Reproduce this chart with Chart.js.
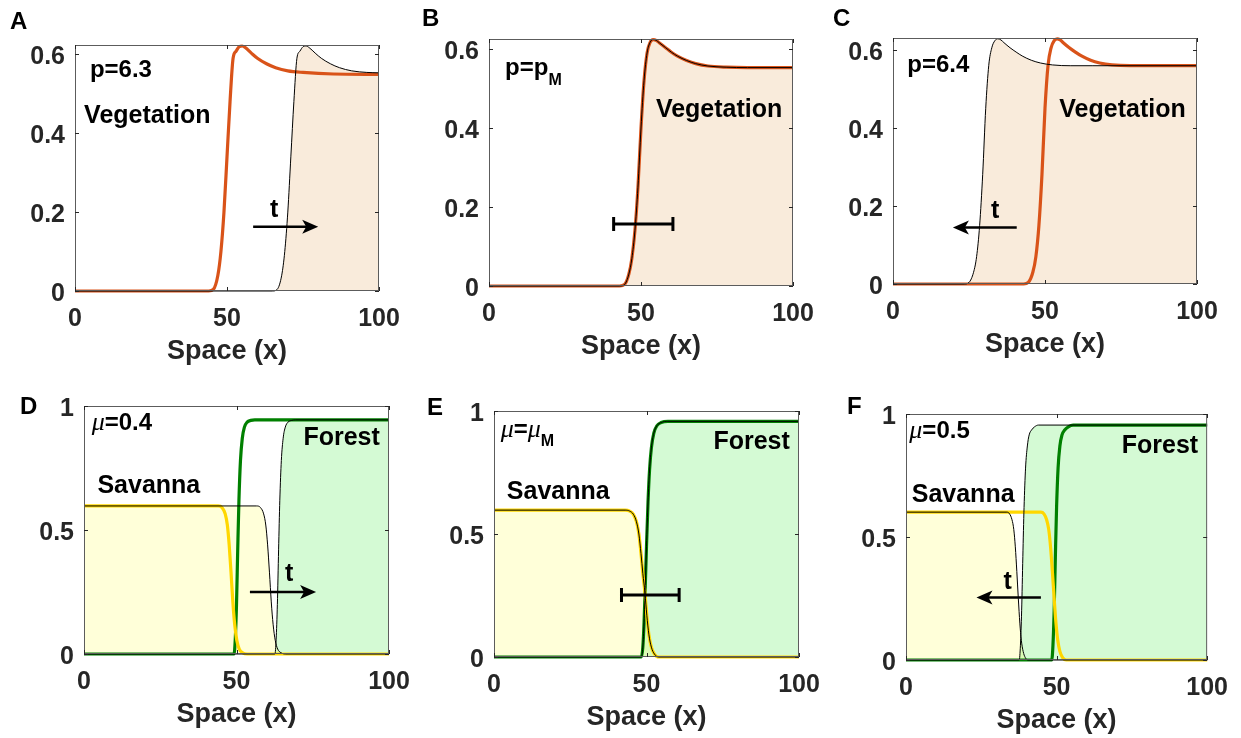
<!DOCTYPE html>
<html>
<head>
<meta charset="utf-8">
<title>Front propagation</title>
<script src="https://cdn.jsdelivr.net/npm/chart.js@4.4.1/dist/chart.umd.min.js"></script>
<style>
  html, body { margin: 0; padding: 0; background: #fff; overflow: hidden; }
  #wrap { position: relative; width: 1241px; height: 738px; }
  #wrap canvas { position: absolute; left: 0; top: 0; }
</style>
</head>
<body>
<div id="wrap">
  <canvas id="panelA" width="1241" height="738"></canvas>
  <canvas id="panelB" width="1241" height="738"></canvas>
  <canvas id="panelC" width="1241" height="738"></canvas>
  <canvas id="panelD" width="1241" height="738"></canvas>
  <canvas id="panelE" width="1241" height="738"></canvas>
  <canvas id="panelF" width="1241" height="738"></canvas>
</div>
<script>
// ---- data ----
const xTicks = [0, 50, 100];
const vegTicks = [0, 0.2, 0.4, 0.6];
const coverTicks = [0, 0.5, 1];

// A: p=6.3, front moves right
const aFrontX = [0, 44, 45.5, 47, 48, 49, 50, 51, 52, 53, 54, 55, 56, 58, 60, 63, 66, 70, 75, 85, 100];
const aFrontY = [0, 0, 0.004, 0.04, 0.1, 0.2, 0.34, 0.48, 0.59, 0.608, 0.619, 0.621, 0.617, 0.603, 0.59, 0.576, 0.566, 0.558, 0.554, 0.55, 0.549];
const aLaterX = [0, 65, 66.5, 68, 69, 70, 71, 72, 73, 74, 75, 76, 77, 79, 81, 84, 87, 91, 96, 100];
const aLaterY = [0, 0, 0.004, 0.04, 0.1, 0.2, 0.34, 0.48, 0.59, 0.608, 0.619, 0.621, 0.617, 0.603, 0.59, 0.576, 0.566, 0.558, 0.554, 0.553];

// B: p=pM, front pinned
const bFrontX = [0, 43, 44.6, 46, 47, 48, 49, 50, 51, 52, 53, 54, 55, 56, 58, 60, 62, 65, 68, 72, 78, 85, 100];
const bFrontY = [0, 0, 0.004, 0.03, 0.07, 0.14, 0.25, 0.4, 0.52, 0.59, 0.617, 0.624, 0.622, 0.616, 0.604, 0.592, 0.582, 0.571, 0.563, 0.557, 0.554, 0.553, 0.553];

// C: p=6.4, front moves left
const cFrontX = [0, 43, 44.5, 46, 47, 48, 49, 50, 51, 52, 53, 54, 55, 56, 58, 60, 62, 65, 68, 72, 78, 85, 100];
const cFrontY = [0, 0, 0.004, 0.03, 0.07, 0.15, 0.28, 0.45, 0.56, 0.605, 0.623, 0.628, 0.625, 0.618, 0.605, 0.594, 0.584, 0.573, 0.566, 0.561, 0.559, 0.559, 0.559];
const cLaterX = [0, 23.5, 25, 26.5, 27.5, 28.5, 29.5, 30.5, 31.5, 32.5, 33.5, 34.5, 35.5, 36.5, 38.5, 40.5, 42.5, 45.5, 48.5, 52.5, 58.5, 65.5, 100];
const cLaterY = [0, 0, 0.004, 0.03, 0.07, 0.15, 0.28, 0.45, 0.56, 0.605, 0.623, 0.628, 0.625, 0.618, 0.605, 0.594, 0.584, 0.573, 0.566, 0.561, 0.559, 0.559, 0.559];

// D: mu=0.4, forest advances
const dSavX = [0, 44, 45.3, 46.3, 47, 47.6, 48.2, 48.8, 49.4, 50.1, 50.9, 52, 53.5, 100];
const dSavY = [0.597, 0.597, 0.59, 0.565, 0.52, 0.44, 0.33, 0.21, 0.12, 0.055, 0.02, 0.005, 0, 0];
const dForX = [0, 49.2, 49.6, 50, 50.4, 50.8, 51.3, 51.9, 52.6, 53.5, 54.7, 56, 100];
const dForY = [0, 0, 0.06, 0.2, 0.42, 0.62, 0.78, 0.87, 0.915, 0.935, 0.942, 0.944, 0.944];
const dSavLaterX = [0, 56.6, 57.9, 58.9, 59.6, 60.2, 60.8, 61.4, 62, 62.7, 63.5, 64.6, 66.1, 100];
const dSavLaterY = [0.597, 0.597, 0.59, 0.565, 0.52, 0.44, 0.33, 0.21, 0.12, 0.055, 0.02, 0.005, 0, 0];
const dForLaterX = [0, 62.6, 63, 63.4, 63.8, 64.2, 64.7, 65.3, 66, 66.9, 68.1, 69.4, 100];
const dForLaterY = [0, 0, 0.06, 0.2, 0.42, 0.62, 0.78, 0.87, 0.915, 0.935, 0.942, 0.944, 0.944];

// E: mu=muM, front pinned
const eSavX = [0, 43, 44.5, 45.7, 46.7, 47.5, 48.2, 48.8, 49.5, 50.1, 50.8, 51.6, 52.6, 54, 100];
const eSavY = [0.597, 0.597, 0.593, 0.58, 0.55, 0.5, 0.42, 0.34, 0.26, 0.17, 0.09, 0.04, 0.012, 0, 0];
const eForX = [0, 48.3, 48.8, 49.2, 49.6, 50, 50.5, 51, 51.6, 52.4, 53.4, 54.8, 57, 100];
const eForY = [0, 0, 0.04, 0.14, 0.29, 0.45, 0.63, 0.76, 0.85, 0.91, 0.94, 0.953, 0.958, 0.958];

// F: mu=0.5, savanna advances
const fSavX = [0, 44.8, 45.8, 46.7, 47.4, 48, 48.6, 49.2, 49.8, 50.4, 51.1, 52, 53.2, 100];
const fSavY = [0.601, 0.601, 0.594, 0.57, 0.53, 0.46, 0.36, 0.25, 0.15, 0.08, 0.035, 0.01, 0, 0];
const fForX = [0, 48.4, 48.8, 49.2, 49.6, 50, 50.5, 51.1, 51.8, 52.7, 53.9, 55.5, 100];
const fForY = [0, 0, 0.06, 0.2, 0.42, 0.62, 0.78, 0.87, 0.915, 0.935, 0.948, 0.955, 0.955];
const fSavLaterX = [0, 33.5, 34.4, 35.2, 35.8, 36.3, 36.8, 37.3, 37.8, 38.3, 38.9, 39.6, 40.5, 100];
const fSavLaterY = [0.601, 0.601, 0.594, 0.57, 0.53, 0.46, 0.36, 0.25, 0.15, 0.08, 0.035, 0.01, 0, 0];
const fForLaterX = [0, 37.6, 38, 38.4, 38.8, 39.2, 39.7, 40.3, 40.9, 41.7, 42.7, 44, 100];
const fForLaterY = [0, 0, 0.06, 0.2, 0.42, 0.62, 0.78, 0.87, 0.915, 0.935, 0.948, 0.955, 0.955];

// ---- styles ----
const SANS = '"Liberation Sans", Arial, Helvetica, sans-serif';
const SERIF = '"Liberation Serif", "Times New Roman", serif';
const INK = '#262626';
const ORANGE = '#D95319';
const GREEN = '#008000';
const YELLOW = '#FFD700';
const BEIGE = '#F9EBDB';
const SAV_FILL = 'rgba(255,255,0,0.15)';
const FOR_FILL = 'rgba(0,225,0,0.17)';

const LABEL_FONT = 'bold 25px ' + SANS;
const PARAM_FONT = 'bold 24px ' + SANS;
const SUB_FONT = 'bold 16px ' + SANS;
const MU_FONT = 'italic 26px ' + SERIF;

function pts(xs, ys) {
    return xs.map((x, i) => ({ x: x, y: ys[i] }));
}

// thick line = profile now
function thick(xs, ys, color) {
    return { data: pts(xs, ys), borderColor: color, borderWidth: 3.2, fill: false, order: 2, clip: 4 };
}

// thin black line = profile later, shaded underneath
function thin(xs, ys, shade) {
    return { data: pts(xs, ys), borderColor: '#000', borderWidth: 1, fill: 'origin', backgroundColor: shade, order: 1, clip: 4 };
}

function word(text, x, y, align) {
    return { x: x, y: y, align: align || 'left', runs: [{ t: text, font: LABEL_FONT }] };
}

// box, inward ticks, labels, arrows and range bars
const decor = {
    id: 'decor',
    afterDraw(chart, args, o) {
        const ctx = chart.ctx;
        const a = chart.chartArea;
        const sx = chart.scales.x, sy = chart.scales.y;
        ctx.save();

        ctx.strokeStyle = '#5c5c5c';
        ctx.lineWidth = 1;
        ctx.strokeRect(a.left + 0.5, a.top + 0.5, a.width - 1, a.height - 1);
        ctx.strokeStyle = INK;
        ctx.beginPath();
        sx.ticks.forEach(tk => {
            const px = Math.round(sx.getPixelForValue(tk.value)) + 0.5;
            ctx.moveTo(px, a.bottom); ctx.lineTo(px, a.bottom - 4);
            ctx.moveTo(px, a.top); ctx.lineTo(px, a.top + 4);
        });
        sy.ticks.forEach(tk => {
            const py = Math.round(sy.getPixelForValue(tk.value)) + 0.5;
            ctx.moveTo(a.left, py); ctx.lineTo(a.left + 4, py);
            ctx.moveTo(a.right, py); ctx.lineTo(a.right - 4, py);
        });
        ctx.stroke();

        ctx.fillStyle = '#000';
        ctx.textBaseline = 'alphabetic';
        ctx.textAlign = 'left';
        (o.labels || []).forEach(lb => {
            let w = 0;
            lb.runs.forEach(r => { ctx.font = r.font; w += ctx.measureText(r.t).width; });
            let px = sx.getPixelForValue(lb.x);
            if (lb.align === 'right') px -= w;
            if (lb.align === 'center') px -= w / 2;
            const py = sy.getPixelForValue(lb.y);
            lb.runs.forEach(r => {
                ctx.font = r.font;
                ctx.fillText(r.t, px, py + (r.dy || 0));
                px += ctx.measureText(r.t).width;
            });
        });

        ctx.strokeStyle = '#000';
        ctx.lineWidth = 2.5;
        (o.arrows || []).forEach(ar => {
            const x0 = sx.getPixelForValue(ar.x0), x1 = sx.getPixelForValue(ar.x1);
            const py = sy.getPixelForValue(ar.y);
            const dir = x1 > x0 ? 1 : -1;
            ctx.beginPath();
            ctx.moveTo(x0, py); ctx.lineTo(x1 - dir * 8, py);
            ctx.stroke();
            ctx.beginPath();
            ctx.moveTo(x1, py);
            ctx.lineTo(x1 - dir * 16, py - 7);
            ctx.lineTo(x1 - dir * 12, py);
            ctx.lineTo(x1 - dir * 16, py + 7);
            ctx.closePath();
            ctx.fill();
        });

        ctx.lineWidth = 3;
        (o.bars || []).forEach(b => {
            const x0 = sx.getPixelForValue(b.x0), x1 = sx.getPixelForValue(b.x1);
            const py = sy.getPixelForValue(b.y);
            ctx.beginPath();
            ctx.moveTo(x0, py); ctx.lineTo(x1, py);
            ctx.moveTo(x0, py - 7); ctx.lineTo(x0, py + 7);
            ctx.moveTo(x1, py - 7); ctx.lineTo(x1, py + 7);
            ctx.stroke();
        });

        if (o.letter) {
            ctx.font = 'bold 24px ' + SANS;
            ctx.fillText(o.letter.t, o.letter.px, o.letter.py);
        }
        ctx.restore();
    }
};

// box = plot frame in page pixels: [left, top, right, bottom]
function makePanel(id, box, yMax, yTicks, datasets, extras) {
    const Y_AXIS_W = 60, X_AXIS_H = 74;
    return new Chart(document.getElementById(id), {
        type: 'line',
        data: { datasets: datasets },
        options: {
            responsive: false,
            animation: false,
            devicePixelRatio: 1,
            events: [],
            layout: {
                padding: {
                    left: box[0] - Y_AXIS_W,
                    top: box[1],
                    right: 1241 - box[2],
                    bottom: 738 - box[3] - X_AXIS_H
                }
            },
            elements: {
                point: { radius: 0 },
                line: { cubicInterpolationMode: 'monotone' }
            },
            scales: {
                x: {
                    type: 'linear',
                    min: 0,
                    max: 100,
                    afterBuildTicks: s => { s.ticks = xTicks.map(v => ({ value: v })); },
                    afterFit: s => { s.height = X_AXIS_H; },
                    grid: { display: false, drawTicks: false },
                    border: { display: false },
                    ticks: { color: INK, padding: 13, maxRotation: 0, font: { family: SANS, size: 25, weight: 'bold' } },
                    title: {
                        display: true,
                        text: 'Space (x)',
                        color: INK,
                        padding: { top: 0, bottom: 0 },
                        font: { family: SANS, size: 27, weight: 'bold', lineHeight: 1 }
                    }
                },
                y: {
                    type: 'linear',
                    min: 0,
                    max: yMax,
                    afterBuildTicks: s => { s.ticks = yTicks.map(v => ({ value: v })); },
                    afterFit: s => { s.width = Y_AXIS_W; },
                    grid: { display: false, drawTicks: false },
                    border: { display: false },
                    ticks: { color: INK, padding: 10, labelOffset: 3, font: { family: SANS, size: 25, weight: 'bold' }, callback: v => String(v) }
                }
            },
            plugins: {
                legend: { display: false },
                tooltip: { enabled: false },
                filler: { drawTime: 'beforeDatasetsDraw' },
                decor: extras
            }
        },
        plugins: [decor]
    });
}

makePanel('panelA', [75, 45, 379, 291], 0.6235, vegTicks, [
    thick(aFrontX, aFrontY, ORANGE),
    thin(aLaterX, aLaterY, BEIGE)
], {
    letter: { t: 'A', px: 10, py: 29 },
    labels: [
        { x: 4.9, y: 0.542, runs: [{ t: 'p=6.3', font: PARAM_FONT }] },
        word('Vegetation', 3.0, 0.427),
        word('t', 65.5, 0.188, 'center')
    ],
    arrows: [{ x0: 58.6, x1: 80, y: 0.163 }]
});

makePanel('panelB', [489, 39, 793, 286], 0.6254, vegTicks, [
    thick(bFrontX, bFrontY, ORANGE),
    thin(bFrontX, bFrontY, BEIGE)
], {
    letter: { t: 'B', px: 422, py: 26 },
    labels: [
        { x: 5.3, y: 0.534, runs: [{ t: 'p=p', font: PARAM_FONT }, { t: 'M', font: SUB_FONT, dy: 10 }] },
        word('Vegetation', 54.9, 0.427)
    ],
    bars: [{ x0: 41, x1: 60.5, y: 0.157 }]
});

makePanel('panelC', [893, 38, 1197, 284], 0.63, vegTicks, [
    thick(cFrontX, cFrontY, ORANGE),
    thin(cLaterX, cLaterY, BEIGE)
], {
    letter: { t: 'C', px: 833, py: 26 },
    labels: [
        { x: 4.7, y: 0.544, runs: [{ t: 'p=6.4', font: PARAM_FONT }] },
        word('Vegetation', 54.7, 0.427),
        word('t', 33.6, 0.168, 'center')
    ],
    arrows: [{ x0: 40.7, x1: 19.7, y: 0.145 }]
});

makePanel('panelD', [84, 406, 389, 654], 1, coverTicks, [
    thick(dSavX, dSavY, YELLOW),
    thick(dForX, dForY, GREEN),
    thin(dSavLaterX, dSavLaterY, SAV_FILL),
    thin(dForLaterX, dForLaterY, FOR_FILL)
], {
    letter: { t: 'D', px: 20, py: 414 },
    labels: [
        { x: 2.5, y: 0.903, runs: [{ t: 'μ', font: MU_FONT }, { t: '=0.4', font: PARAM_FONT }] },
        word('Savanna', 4.4, 0.65),
        word('Forest', 97, 0.843, 'right'),
        word('t', 67.3, 0.295, 'center')
    ],
    arrows: [{ x0: 54.4, x1: 76.1, y: 0.25 }]
});

makePanel('panelE', [494, 411, 799, 657], 1, coverTicks, [
    thick(eSavX, eSavY, YELLOW),
    thick(eForX, eForY, GREEN),
    thin(eSavX, eSavY, SAV_FILL),
    thin(eForX, eForY, FOR_FILL)
], {
    letter: { t: 'E', px: 427, py: 415 },
    labels: [
        { x: 2.2, y: 0.895, runs: [{ t: 'μ', font: MU_FONT }, { t: '=', font: PARAM_FONT }, { t: 'μ', font: MU_FONT }, { t: 'M', font: SUB_FONT, dy: 9 }] },
        word('Savanna', 4.2, 0.641),
        word('Forest', 97, 0.844, 'right')
    ],
    bars: [{ x0: 41.8, x1: 60.7, y: 0.252 }]
});

makePanel('panelF', [906, 414, 1209, 660], 1, coverTicks, [
    thick(fSavX, fSavY, YELLOW),
    thick(fForX, fForY, GREEN),
    thin(fSavLaterX, fSavLaterY, SAV_FILL),
    thin(fForLaterX, fForLaterY, FOR_FILL)
], {
    letter: { t: 'F', px: 847, py: 414 },
    labels: [
        { x: 1.1, y: 0.901, runs: [{ t: 'μ', font: MU_FONT }, { t: '=0.5', font: PARAM_FONT }] },
        word('Savanna', 1.9, 0.643),
        word('Forest', 97, 0.843, 'right'),
        word('t', 33.8, 0.288, 'center')
    ],
    arrows: [{ x0: 44.8, x1: 23.4, y: 0.254 }]
});
</script>
</body>
</html>
